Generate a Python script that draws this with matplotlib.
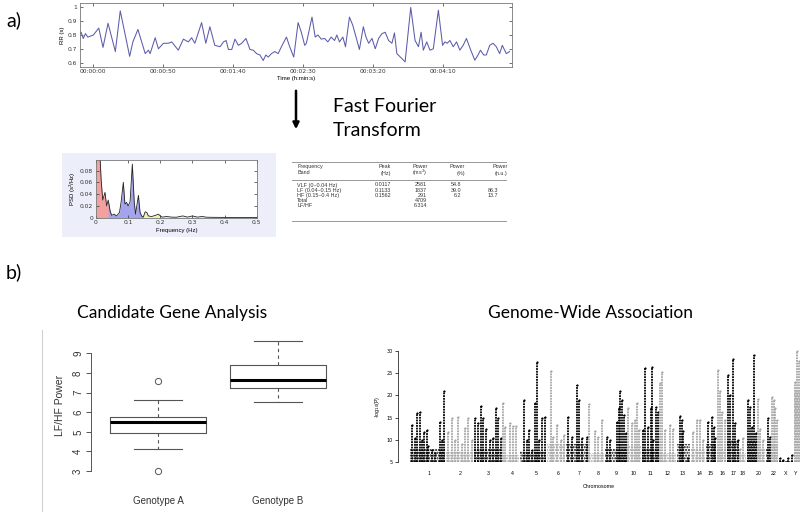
import numpy as np
import matplotlib
matplotlib.use("Agg")
import matplotlib.pyplot as plt
from matplotlib.lines import Line2D
from matplotlib.patches import FancyArrowPatch, Rectangle

# ---- data -----------------------------------------------------------------
# RR interval series (time in s, RR in s)
rr_time = [-9.8, -8.2, -6.7, -5.1, -3.4, 0.5, 4.4, 7.4, 11.0, 16.2,
           19.7, 26.4, 28.7, 32.3, 37.5, 39.8, 41.0, 44.6, 46.9, 50.5,
           54.0, 56.4, 58.7, 61.1, 64.7, 68.2, 70.6, 72.9, 77.7, 80.7,
           83.6, 87.1,
           90.9, 93.3, 95.2, 96.8, 99.2, 101.5, 103.9, 106.3, 109.3, 112.2,
           114.5, 116.9, 119.3, 121.6, 123.5, 125.2, 127.5, 129.9, 132.3, 134.6,
           138.2, 140.5, 143.4, 146.5, 148.8, 151.2, 152.4, 156.4, 158.7, 160.6,
           163.0, 165.4, 167.7, 170.1, 172.5, 174.1, 176.0, 178.4, 180.3, 183.1,
           185.5, 187.8, 190.2, 193.0, 194.9,
           196.8, 199.2, 201.5, 203.9, 206.3, 208.6, 211.0, 213.4, 215.2, 216.9,
           220.4, 222.8, 226.8, 229.9, 232.3, 234.2, 235.8, 238.2, 240.5, 242.9,
           246.5, 249.5, 251.2, 252.8, 254.7, 257.1, 259.5, 261.8, 264.2, 266.5,
           269.6, 272.5, 274.8, 276.5, 278.8, 280.7, 283.1, 285.5, 287.8, 290.2,
           292.1, 294.9, 297.3]
rr_value = [0.80, 0.82, 0.775, 0.81, 0.785, 0.80, 0.85, 0.71, 0.885, 0.68,
            0.975, 0.645, 0.75, 0.84, 0.665, 0.69, 0.665, 0.78, 0.70, 0.74,
            0.74, 0.75, 0.72, 0.69, 0.77, 0.75, 0.78, 0.74, 0.89, 0.74,
            0.86, 0.725,
            0.715, 0.75, 0.76, 0.695, 0.695, 0.77, 0.725, 0.74, 0.775, 0.695,
            0.69, 0.665, 0.655, 0.615, 0.655, 0.64, 0.665, 0.68, 0.665, 0.715,
            0.785, 0.715, 0.64, 0.89, 0.82, 0.725, 0.74, 0.93, 0.785, 0.80,
            0.77, 0.775, 0.75, 0.785, 0.76, 0.80, 0.75, 0.785, 0.715, 0.93,
            0.87, 0.785, 0.695, 0.86, 0.785,
            0.74, 0.775, 0.70, 0.775, 0.81, 0.82, 0.76, 0.74, 0.815, 0.665,
            0.63, 0.605, 1.0, 0.76, 0.715, 0.82, 0.69, 0.75, 0.69, 0.70,
            0.98, 0.725, 0.75, 0.74, 0.76, 0.715, 0.75, 0.69, 0.725, 0.775,
            0.69, 0.617, 0.655, 0.69, 0.655, 0.655, 0.725, 0.74, 0.715, 0.665,
            0.725, 0.665, 0.68]
rr_ticks = [0, 50, 100, 150, 200, 250]

# power spectral density
spec_freq = [0.0, 0.004, 0.008, 0.012, 0.016, 0.021, 0.028, 0.033, 0.038, 0.044,
             0.049, 0.056, 0.064, 0.073, 0.078, 0.085, 0.090, 0.095, 0.100, 0.106,
             0.113, 0.119, 0.123, 0.132, 0.137, 0.142, 0.147, 0.153, 0.158, 0.163,
             0.173, 0.185, 0.194, 0.205, 0.220, 0.235, 0.250, 0.270, 0.285, 0.300,
             0.315, 0.330, 0.345, 0.370, 0.400, 0.450, 0.500]
spec_psd = [0.12, 0.20, 0.15, 0.11, 0.064, 0.030, 0.043, 0.020, 0.030, 0.011,
            0.004, 0.006, 0.003, 0.009, 0.026, 0.060, 0.023, 0.026, 0.020, 0.027,
            0.091, 0.026, 0.006, 0.038, 0.009, 0.003, 0.001, 0.010, 0.009, 0.003,
            0.002, 0.004, 0.006, 0.001, 0.002, 0.001, 0.0008, 0.003, 0.001, 0.003,
            0.001, 0.002, 0.0008, 0.0006, 0.0005, 0.0004, 0.0003]
bands = [(0.0, 0.04, "#f2a0a0"), (0.04, 0.15, "#a4a4ee"), (0.15, 0.4, "#f2f2a8")]

# HRV table
table_header = [("Frequency", "Band"), ("Peak", "(Hz)"), ("Power", "(ms$^2$)"),
                ("Power", "(%)"), ("Power", "(n.u.)")]
table_rows = [["VLF (0\u20130.04 Hz)", "0.0117", "2581", "54.8", ""],
              ["LF (0.04\u20130.15 Hz)", "0.1133", "1837", "39.0", "86.3"],
              ["HF (0.15\u20130.4 Hz)", "0.1562", "291", "6.2", "13.7"],
              ["Total", "", "4709", "", ""],
              ["LF/HF", "", "6.314", "", ""]]

# candidate gene box plot
genotypes = ["Genotype A", "Genotype B"]
box_stats = [dict(med=5.48, q1=4.92, q3=5.74, whislo=4.12, whishi=6.6, fliers=[7.59, 3.0]),
             dict(med=7.64, q1=7.25, q3=8.41, whislo=6.52, whishi=9.65, fliers=[])]

# genome-wide association
# chromosome extents (genome position units) and height of the dense low-P band
chrom_start = [11, 47, 75, 103, 121, 148, 167, 189, 206, 228, 243, 260,
               278, 292, 307, 318, 328, 340, 348, 358, 367, 372, 380, 395]
chrom_end = [46, 74, 102, 120, 147, 166, 189, 205, 228, 242, 260, 277,
             291, 306, 317, 327, 340, 347, 358, 366, 371, 379, 394, 401]
chrom_floor = [8, 7.5, 8, 6.5, 7.5, 9, 9, 7, 8, 8.5, 8, 7,
               9, 8, 9, 8, 10, 7, 10, 8, 8, 9, 5.3, 21]
# stripes: (chromosome, genome position, top -log10 P)
gwas_chrom = ([1] * 13 + [2] * 8 + [3] * 10 + [4] * 5 + [5] * 9 + [6] * 5 + [7] * 6
              + [8] * 4 + [9] * 8 + [10] * 5 + [11] * 8 + [12] * 5 + [13] * 4 + [14] * 4
              + [15] * 4 + [16] * 4 + [17] * 5 + [18] * 2 + [19] * 5 + [20] * 3 + [21] * 2
              + [22] * 4 + [23] * 4 + [24] * 3)
gwas_pos = [13, 16, 18, 21, 23, 25, 28, 29, 33, 36, 41, 43, 45,
            49, 53, 56, 59, 63, 66, 69, 73,
            76, 79, 82, 84, 87, 91, 94, 97, 99, 102,
            103.5, 106, 111, 114, 117,
            125, 128, 129.5, 133, 136, 138, 140, 143, 146,
            152, 154, 158, 162, 164.5,
            169, 173, 178, 179.5, 183, 188,
            190, 196, 199, 203,
            208, 211, 218, 220, 221, 223, 225, 227,
            229, 233, 236, 238, 240,
            244, 246, 249, 252, 253, 254, 257, 259,
            261, 263, 266, 271, 274,
            281, 283, 284, 289,
            294, 298, 301, 304,
            309, 313, 314.5, 316,
            319, 321, 323, 326,
            329, 331, 334, 336, 339,
            341, 344,
            349, 351, 353, 355, 357,
            359, 361, 364,
            369, 371,
            373, 374.5, 376, 378,
            381, 384, 389, 393,
            396, 398, 399.5]
gwas_top = [13.3, 10.5, 16.1, 16.3, 10, 11.7, 12.2, 8.5, 7.7, 7, 14, 10, 21,
            11.8, 14.8, 10, 15.2, 9, 12.7, 15, 10,
            14.8, 13.7, 17.7, 14.8, 12.4, 10, 10.5, 17.1, 14.8, 10.3,
            18.4, 12.8, 13.7, 13.1, 13.1,
            19, 10, 12.2, 7.7, 18.2, 27.6, 10, 14.8, 15.2,
            25.5, 10.7, 13.3, 10, 11,
            15.2, 10.7, 22.3, 19, 10.3, 10.7,
            18, 12, 10.7, 14.5,
            10.7, 10, 14, 17.1, 21, 19, 15.6, 11.5,
            17.1, 13.7, 14.5, 18.4, 12.2,
            12.2, 26.1, 12.8, 17.1, 26.5, 10, 17.5, 16.3,
            22.9, 25.2, 12.2, 13.3, 12.5,
            15.4, 14.5, 12, 5.8,
            11.7, 14.5, 14.5, 10,
            14, 15.2, 12.8, 10.5,
            25.7, 21, 16.3, 14.5,
            24.6, 20, 28.3, 13.7, 10,
            8, 10.5,
            19, 17.5, 12.8, 29.2, 11.5,
            19.3, 12.5, 10,
            14.8, 10.7,
            19.7, 19, 17.1, 14.5,
            6, 5.4, 5.8, 6.6,
            23.1, 30, 27.8]
chrom_labels = ["1", "2", "3", "4", "5", "6", "7", "8", "9", "10", "11", "12",
                "13", "14", "15", "16", "17", "18", "20", "22", "X", "Y"]
chrom_mid = [30, 61, 89, 113, 137, 159, 180, 199, 217, 235, 251, 268,
             284, 300, 312, 323, 334, 344, 360, 375, 387, 397]

# ---- layout helpers -------------------------------------------------------
W, H = 800, 512
plt.rcParams["hatch.linewidth"] = 1.0
fig = plt.figure(figsize=(W / 100, H / 100), dpi=100)
fig.patch.set_facecolor("white")
SLIDE = "Lato"
PLOT = "Liberation Sans"


def rect(x0, y0, x1, y1):
    return [x0 / W, 1 - y1 / H, (x1 - x0) / W, (y1 - y0) / H]


def ftext(x, y, s, **kw):
    fig.text(x / W, 1 - y / H, s, **kw)


def matlab_axes(ax, fs):
    for sp in ax.spines.values():
        sp.set_color("#777777")
        sp.set_linewidth(0.6)
    ax.tick_params(direction="in", length=2, width=0.5, labelsize=fs,
                   top=True, right=True, colors="#333333", pad=2)


# ---- a) RR interval series -------------------------------------------------
ftext(6, 20, "a)", fontsize=14, family=SLIDE, va="center")
ax1 = fig.add_axes(rect(80, 3.3, 512, 66.7))
ax1.plot(rr_time, rr_value, color="#5c5cab", lw=0.75)
ax1.set_xlim(-9, 299)
ax1.set_ylim(0.57, 1.03)
ax1.set_xticks(rr_ticks)
ax1.set_xticklabels(["%02d:%02d:%02d" % (t // 3600, (t % 3600) // 60, t % 60) for t in rr_ticks])
ax1.set_yticks([0.6, 0.7, 0.8, 0.9, 1.0])
ax1.set_yticklabels(["0.6", "0.7", "0.8", "0.9", "1"])
matlab_axes(ax1, 4.3)
ax1.set_xlabel("Time (h:min:s)", fontsize=4.3, family=PLOT, labelpad=1)
ax1.set_ylabel("RR (s)", fontsize=4.3, family=PLOT, labelpad=2)

# arrow + caption
fig.add_artist(FancyArrowPatch((296 / W, 1 - 88 / H), (296 / W, 1 - 132 / H),
                               transform=fig.transFigure, arrowstyle="-|>",
                               mutation_scale=9, lw=1.8, color="black"))
ftext(333, 106, "Fast Fourier", fontsize=14, family=SLIDE, va="center")
ftext(333, 131, "Transform", fontsize=14, family=SLIDE, va="center")

# spectrum panel
fig.add_artist(Rectangle((62 / W, 1 - 237 / H), 214 / W, 84 / H, transform=fig.transFigure,
                         facecolor="#eceef9", edgecolor="none", zorder=0))
ax2 = fig.add_axes(rect(96, 160, 256.7, 217.7))
f = np.array(spec_freq)
p = np.array(spec_psd)
for lo, hi, col in bands:
    m = (f >= lo - 0.006) & (f <= hi + 0.006)
    ax2.fill_between(f[m], p[m], color=col, lw=0)
ax2.plot(f, p, color="#222222", lw=0.6)
ax2.set_xlim(0, 0.5)
ax2.set_ylim(0, 0.098)
ax2.set_xticks([0, 0.1, 0.2, 0.3, 0.4, 0.5])
ax2.set_xticklabels(["0", "0.1", "0.2", "0.3", "0.4", "0.5"])
ax2.set_yticks([0, 0.02, 0.04, 0.06, 0.08])
ax2.set_yticklabels(["0", "0.02", "0.04", "0.06", "0.08"])
matlab_axes(ax2, 4.3)
ax2.set_xlabel("Frequency (Hz)", fontsize=4.3, family=PLOT, labelpad=1.5)
ax2.set_ylabel("PSD (s$^2$/Hz)", fontsize=4.3, family=PLOT, labelpad=1.5)

# table
ax3 = fig.add_axes(rect(288, 150, 516, 236))
ax3.set_xlim(288, 516)
ax3.set_ylim(236, 150)
ax3.axis("off")
for yl in (161.5, 179.5, 220.5):
    ax3.plot([292, 506], [yl, yl], color="#888888", lw=0.6)
col_x = [297, 391, 427, 461, 498]
head_x = [297, 391, 427.5, 465, 507.5]
tfs = 3.9
for j, (h1, h2) in enumerate(table_header):
    ha = "left" if j == 0 else "right"
    ax3.text(head_x[j], 166.5, h1, ha=ha, va="center", fontsize=tfs, family=PLOT, color="#333333")
    ax3.text(head_x[j], 173, h2, ha=ha, va="center", fontsize=tfs, family=PLOT, color="#333333")
for i, row in enumerate(table_rows):
    for j, s in enumerate(row):
        ha = "left" if j == 0 else "right"
        ax3.text(col_x[j], 185 + i * 5.2, s, ha=ha, va="center", fontsize=tfs,
                 family=PLOT, color="#333333")

# ---- b) candidate gene / GWAS -------------------------------------------------
ftext(6, 272, "b)", fontsize=14, family=SLIDE, va="center")
ftext(172, 313, "Candidate Gene Analysis", fontsize=12.5, family=SLIDE, ha="center", va="center")
ftext(590, 313, "Genome-Wide Association", fontsize=12.5, family=SLIDE, ha="center", va="center")
fig.add_artist(Line2D([41.7 / W, 41.7 / W], [1 - 330 / H, 0], transform=fig.transFigure,
                      color="#d0d0d0", lw=0.8))

ax4 = fig.add_axes(rect(90.7, 335.4, 345, 476.3))
grey = "#555555"
ax4.bxp(box_stats, positions=[1, 2], widths=0.8, capwidths=0.4,
        boxprops=dict(color=grey, lw=0.8),
        medianprops=dict(color="black", lw=2.2),
        whiskerprops=dict(color=grey, lw=0.8, linestyle=(0, (3, 3))),
        capprops=dict(color=grey, lw=0.8),
        flierprops=dict(marker="o", markerfacecolor="none", markeredgecolor=grey,
                        markersize=4.5, markeredgewidth=0.7))
ax4.set_xlim(0.437, 2.56)
ax4.set_ylim(2.73, 9.92)
for s in ("top", "right", "bottom"):
    ax4.spines[s].set_visible(False)
ax4.spines["left"].set_bounds(3, 9)
ax4.spines["left"].set_color(grey)
ax4.spines["left"].set_linewidth(0.7)
ax4.set_yticks(range(3, 10))
ax4.tick_params(axis="y", length=3.5, width=0.7, colors=grey, labelsize=7, pad=2,
                labelcolor="#333333")
for lab in ax4.get_yticklabels():
    lab.set_rotation(90)
    lab.set_va("center")
    lab.set_family(PLOT)
ax4.set_xticks([1, 2])
ax4.set_xticklabels(genotypes, fontsize=7, family=PLOT, color="#333333")
ax4.tick_params(axis="x", length=0, pad=14)
ax4.set_ylabel("LF/HF Power", fontsize=7.5, family=PLOT, color="#333333", labelpad=6)

# Manhattan plot
ax5 = fig.add_axes(rect(398, 349, 800, 464))
BLACK, GREY = "#000000", "#a6a6a6"
for i in range(len(chrom_start)):
    c = BLACK if i % 2 == 0 else GREY
    ax5.bar((chrom_start[i] + chrom_end[i]) / 2, chrom_floor[i] - 5, bottom=5,
            width=chrom_end[i] - chrom_start[i], fill=False, hatch="......",
            edgecolor=c, lw=0)
chrom = np.array(gwas_chrom)
pos = np.array(gwas_pos)
top = np.array(gwas_top)
colors = np.where(chrom % 2 == 1, BLACK, GREY)
for c in (GREY, BLACK):
    m = colors == c
    ax5.vlines(pos[m], 5, top[m], colors=c, lw=1.3, linestyles=(0, (1, 0.5)))
    ax5.scatter(pos[m], top[m], s=2.5, color=c, lw=0)
ax5.set_xlim(-1, 401)
ax5.set_ylim(4.55, 30.45)
for s in ("top", "right", "bottom"):
    ax5.spines[s].set_visible(False)
ax5.spines["left"].set_bounds(5, 30)
ax5.spines["left"].set_linewidth(0.5)
ax5.set_yticks([5, 10, 15, 20, 25, 30])
ax5.tick_params(axis="y", length=2, width=0.5, labelsize=3.5, pad=2)
ax5.set_xticks(chrom_mid)
ax5.set_xticklabels(chrom_labels, fontsize=3.8, family=PLOT)
ax5.tick_params(axis="x", length=0, pad=5)
ax5.set_xlabel("Chromosome", fontsize=3.8, family=PLOT, labelpad=6)
ax5.set_ylabel("-log$_{10}$(P)", fontsize=3.8, family=PLOT, labelpad=3)

fig.savefig("out.png", dpi=100)
